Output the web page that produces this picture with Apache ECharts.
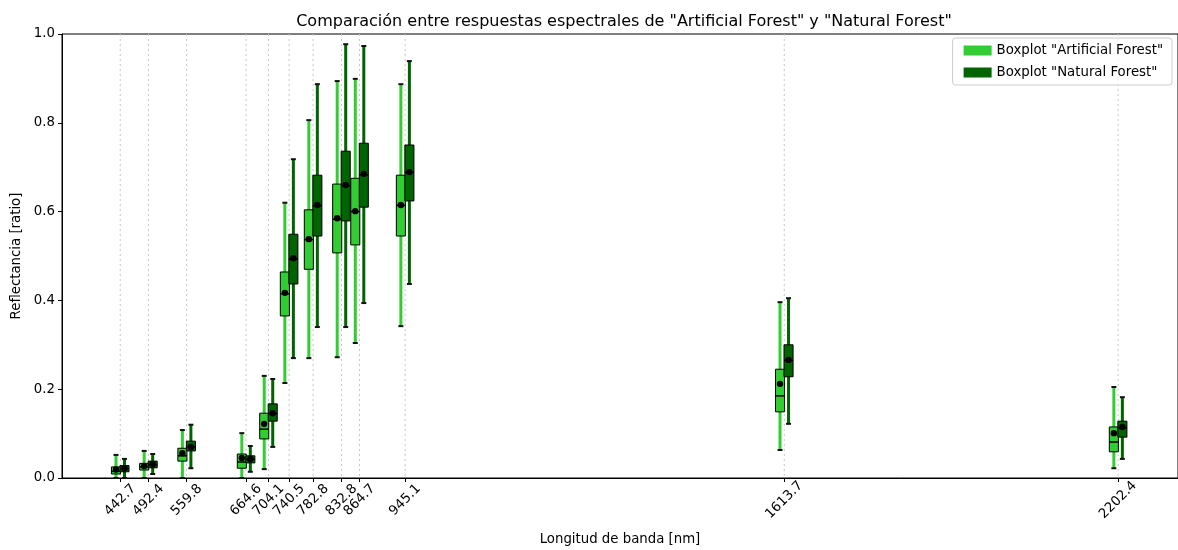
<!DOCTYPE html>
<html>
<head>
<meta charset="utf-8">
<script src="https://cdn.jsdelivr.net/npm/echarts@6/dist/echarts.min.js"></script>
<style>html,body{margin:0;padding:0;background:#fff;}#chart{width:1178px;height:550px;}</style>
</head>
<body>
<div id="chart"></div>
<script>
const bands = [442.7, 492.4, 559.8, 664.6, 704.1, 740.5, 782.8, 832.8, 864.7, 945.1, 1613.7, 2202.4];
const bandLabels = ['442.7','492.4','559.8','664.6','704.1','740.5','782.8','832.8','864.7','945.1','1613.7','2202.4'];

const artLow  = [0.000, 0.000, 0.000, 0.000, 0.020, 0.214, 0.270, 0.272, 0.304, 0.342, 0.063, 0.022];
const artQ1   = [0.009, 0.018, 0.038, 0.022, 0.088, 0.365, 0.470, 0.507, 0.525, 0.545, 0.149, 0.059];
const artMed  = [0.015, 0.025, 0.050, 0.036, 0.110, 0.415, 0.537, 0.583, 0.600, 0.614, 0.185, 0.081];
const artMean = [0.019, 0.027, 0.056, 0.045, 0.122, 0.417, 0.538, 0.585, 0.601, 0.615, 0.212, 0.101];
const artQ3   = [0.025, 0.033, 0.067, 0.054, 0.146, 0.464, 0.604, 0.662, 0.675, 0.682, 0.245, 0.115];
const artHigh = [0.052, 0.061, 0.108, 0.101, 0.230, 0.620, 0.806, 0.894, 0.899, 0.887, 0.396, 0.205];

const natLow  = [0.000, 0.009, 0.022, 0.014, 0.070, 0.270, 0.340, 0.340, 0.394, 0.437, 0.122, 0.043];
const natQ1   = [0.014, 0.023, 0.061, 0.034, 0.128, 0.437, 0.545, 0.579, 0.610, 0.624, 0.228, 0.092];
const natMed  = [0.021, 0.030, 0.070, 0.042, 0.145, 0.493, 0.613, 0.658, 0.683, 0.688, 0.265, 0.113];
const natMean = [0.022, 0.031, 0.070, 0.043, 0.146, 0.495, 0.615, 0.660, 0.685, 0.689, 0.266, 0.115];
const natQ3   = [0.028, 0.038, 0.083, 0.050, 0.167, 0.549, 0.682, 0.736, 0.754, 0.750, 0.300, 0.128];
const natHigh = [0.043, 0.054, 0.120, 0.072, 0.223, 0.718, 0.887, 0.977, 0.973, 0.939, 0.405, 0.182];

const OFFSET = 7.5;   // nm shift of each box from the band centre
const HALF_W = 8;     // nm half box width

function boxData(offset, low, q1, med, q3, high, mean) {
  return bands.map((wl, i) => [wl + offset, low[i], q1[i], med[i], q3[i], high[i], mean[i]]);
}

function boxSeries(name, color, data) {
  return {
    name: name,
    type: 'custom',
    itemStyle: { color: color },
    encode: { x: 0, y: [1, 2, 3, 4, 5, 6] },
    data: data,
    z: 3,
    renderItem: function (params, api) {
      const x = api.value(0);
      const cx = api.coord([x, 0])[0];
      const xl = api.coord([x - HALF_W, 0])[0];
      const xr = api.coord([x + HALF_W, 0])[0];
      const yLow = api.coord([x, api.value(1)])[1];
      const yQ1 = api.coord([x, api.value(2)])[1];
      const yMed = api.coord([x, api.value(3)])[1];
      const yQ3 = api.coord([x, api.value(4)])[1];
      const yHigh = api.coord([x, api.value(5)])[1];
      const yMean = api.coord([x, api.value(6)])[1];
      const capHalf = 2.5;
      return {
        type: 'group',
        children: [
          { type: 'line', shape: { x1: cx, y1: yLow, x2: cx, y2: yHigh }, style: { stroke: color, lineWidth: 3 } },
          { type: 'line', shape: { x1: cx - capHalf, y1: yLow, x2: cx + capHalf, y2: yLow }, style: { stroke: '#111', lineWidth: 2 } },
          { type: 'line', shape: { x1: cx - capHalf, y1: yHigh, x2: cx + capHalf, y2: yHigh }, style: { stroke: '#111', lineWidth: 2 } },
          { type: 'rect', shape: { x: xl, y: yQ3, width: xr - xl, height: yQ1 - yQ3 }, style: { fill: color, stroke: '#000', lineWidth: 1 } },
          { type: 'line', shape: { x1: xl, y1: yMed, x2: xr, y2: yMed }, style: { stroke: '#000', lineWidth: 1.5 } },
          { type: 'circle', shape: { cx: cx, cy: yMean, r: 3.2 }, style: { fill: '#000' } }
        ]
      };
    }
  };
}

const chart = echarts.init(document.getElementById('chart'), null, { renderer: 'canvas' });
const FONT = 'DejaVu Sans';
const FS = 13.3;

const option = {
  animation: false,
  backgroundColor: '#fff',
  textStyle: { fontFamily: FONT },
  title: {
    text: 'Comparación entre respuestas espectrales de "Artificial Forest" y "Natural Forest"',
    left: 619, top: 9, textAlign: 'center',
    textStyle: { fontFamily: FONT, fontSize: 16, fontWeight: 'normal', color: '#000' }
  },
  legend: {
    right: 6, top: 38, orient: 'vertical',
    icon: 'rect', itemWidth: 28, itemHeight: 10, itemGap: 9,
    padding: [6, 9, 6, 11],
    borderColor: '#ccc', borderWidth: 1, borderRadius: 3,
    backgroundColor: 'rgba(255,255,255,0.8)',
    textStyle: { fontFamily: FONT, fontSize: FS, color: '#000' },
    data: ['Boxplot "Artificial Forest"', 'Boxplot "Natural Forest"']
  },
  grid: { left: 62, right: 0, top: 34, bottom: 72, outerBoundsMode: 'none', containLabel: false,
          show: true, borderColor: '#000', borderWidth: 1, backgroundColor: 'transparent' },
  xAxis: {
    type: 'value', min: 340, max: 2308,
    name: 'Longitud de banda [nm]', nameLocation: 'middle', nameGap: 55,
    nameTextStyle: { fontFamily: FONT, fontSize: FS, color: '#000' },
    axisLine: { show: true, lineStyle: { color: '#000', width: 1 } },
    axisTick: { show: true, customValues: bands, length: 4, lineStyle: { color: '#000' } },
    axisLabel: {
      show: true, customValues: bands, rotate: 45, align: 'center', verticalAlign: 'middle', margin: 22,
      fontFamily: FONT, fontSize: FS, color: '#000',
      formatter: function (v) { const i = bands.indexOf(v); return i >= 0 ? bandLabels[i] : ''; }
    },
    splitLine: { show: false }
  },
  yAxis: {
    type: 'value', min: 0, max: 1, interval: 0.2,
    name: 'Reflectancia [ratio]', nameLocation: 'middle', nameGap: 38,
    nameTextStyle: { fontFamily: FONT, fontSize: FS, color: '#000' },
    axisLine: { show: true, lineStyle: { color: '#000', width: 1 } },
    axisTick: { show: true, length: 4, lineStyle: { color: '#000' } },
    axisLabel: { fontFamily: FONT, fontSize: FS, color: '#000', margin: 7, formatter: function (v) { return v.toFixed(1); } },
    splitLine: { show: false }
  },
  series: [
    {
      name: 'bandGrid', type: 'custom', silent: true, z: 1,
      encode: { x: 0 },
      data: bands.map(b => [b]),
      renderItem: function (params, api) {
        const top = api.coord([api.value(0), 1]);
        const bot = api.coord([api.value(0), 0]);
        return { type: 'line', shape: { x1: top[0], y1: top[1], x2: bot[0], y2: bot[1] },
                 style: { stroke: '#c8c8c8', lineWidth: 1, lineDash: [2, 3] } };
      }
    },
    boxSeries('Boxplot "Artificial Forest"', '#32CD32', boxData(-OFFSET, artLow, artQ1, artMed, artQ3, artHigh, artMean)),
    boxSeries('Boxplot "Natural Forest"', '#006400', boxData(OFFSET, natLow, natQ1, natMed, natQ3, natHigh, natMean))
  ]
};
chart.setOption(option);
</script>
</body>
</html>
